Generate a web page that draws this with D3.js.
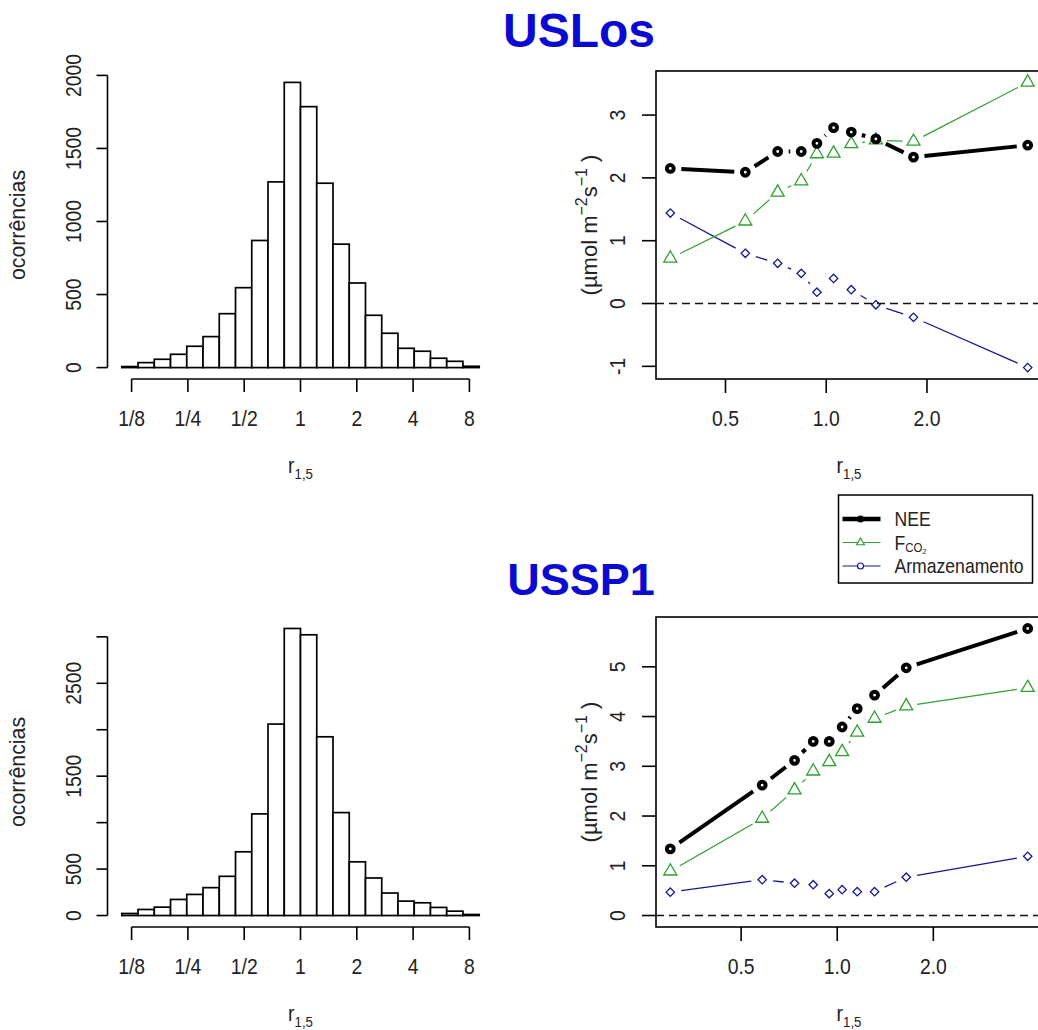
<!DOCTYPE html>
<html>
<head>
<meta charset="utf-8">
<script src="https://cdn.jsdelivr.net/npm/d3@7/dist/d3.min.js"></script>
<style>
  body { margin: 0; background: #fff; }
  svg { display: block; }
  text { font-family: "Liberation Sans", Arial, sans-serif; }
</style>
</head>
<body>
<svg id="chart" width="1038" height="1030"></svg>
<script>
// ---------- data ----------
// histogram bin edges, in ln(r)
const binEdgesLn = [-2.2, -2.0, -1.8, -1.6, -1.4, -1.2, -1.0, -0.8, -0.6, -0.4, -0.2, 0,
                    0.2, 0.4, 0.6, 0.8, 1.0, 1.2, 1.4, 1.6, 1.8, 2.0, 2.2];
const countsUSLos = [7, 34, 57, 91, 146, 212, 369, 547, 870, 1271, 1952,
                     1786, 1262, 845, 579, 358, 235, 132, 112, 64, 43, 9];
const countsUSSP1 = [22, 65, 90, 173, 227, 300, 422, 686, 1094, 2061, 3090,
                     3022, 1924, 1108, 578, 404, 242, 155, 137, 87, 47, 11];

const histXTicks = [1/8, 1/4, 1/2, 1, 2, 4, 8];
const histXLabels = ["1/8", "1/4", "1/2", "1", "2", "4", "8"];
const histYTicksUSLos = [0, 500, 1000, 1500, 2000];
const histYLabelsUSLos = [0, 500, 1000, 1500, 2000];
const histYTicksUSSP1 = [0, 500, 1000, 1500, 2000, 2500, 3000];
const histYLabelsUSSP1 = [0, 500, 1500, 2500];

// flux vs r_1,5
const rUSLos    = [0.342, 0.573, 0.716, 0.842, 0.938, 1.052, 1.188, 1.407, 1.823, 4.0];
const neeUSLos  = [2.15, 2.09, 2.42, 2.42, 2.55, 2.80, 2.73, 2.62, 2.33, 2.52];
const fco2USLos = [0.72, 1.31, 1.77, 1.95, 2.38, 2.39, 2.54, 2.60, 2.58, 3.52];
const armUSLos  = [1.44, 0.80, 0.64, 0.48, 0.18, 0.40, 0.22, -0.02, -0.22, -1.02];

const rUSSP1    = [0.300, 0.582, 0.735, 0.841, 0.944, 1.036, 1.155, 1.309, 1.645, 3.95];
const neeUSSP1  = [1.34, 2.62, 3.12, 3.50, 3.50, 3.79, 4.16, 4.43, 4.98, 5.77];
const fco2USSP1 = [0.89, 1.95, 2.52, 2.90, 3.09, 3.29, 3.68, 3.96, 4.21, 4.58];
const armUSSP1  = [0.47, 0.72, 0.65, 0.62, 0.44, 0.52, 0.48, 0.48, 0.77, 1.19];

const fluxXTicks = [0.5, 1.0, 2.0];
const fluxXLabels = ["0.5", "1.0", "2.0"];
const fluxYTicksUSLos = [-1, 0, 1, 2, 3];
const fluxYTicksUSSP1 = [0, 1, 2, 3, 4, 5];

const siteNames = ["USLos", "USSP1"];
const seriesNames = ["NEE", "FCO2", "Armazenamento"];

// ---------- styling ----------
const GREEN = "#2ea02e";
const BLUE = "#16168f";
const TITLE_BLUE = "#0a0ad2";
const INK = "#222";
const FONT = 22;
const NARROW = 0.88;   // the original font is a bit condensed
const GAP = 11;        // type="b" gap around points

const rows = [{ top: 71, bottom: 379 }, { top: 617, bottom: 927 }];
const leftCol = { left: 107.5, right: 493.5 };
const rightCol = { left: 656, right: 1042 };

const svg = d3.select("#chart");

// R style 4% padding
function pad(ext) {
    const d = (ext[1] - ext[0]) * 0.04;
    return [ext[0] - d, ext[1] + d];
}

// text inside a scaled group so it can be narrowed and rotated
function label(g, x, y, str, opts = {}) {
    const { size = FONT, anchor = "middle", rotate = 0, sx = NARROW,
            weight = "normal", fill = INK, baseline = null } = opts;
    const t = g.append("g")
        .attr("transform", `translate(${x},${y}) rotate(${rotate}) scale(${sx},1)`)
        .append("text")
            .attr("text-anchor", anchor)
            .attr("font-size", size)
            .attr("font-weight", weight)
            .attr("fill", fill);
    if (baseline) t.attr("dominant-baseline", baseline);
    if (str !== null) t.text(str);
    return t;
}

function rLabel(g, x, y) {
    const t = label(g, x, y, null);
    t.append("tspan").text("r");
    t.append("tspan").attr("font-size", 15).attr("dy", 6).text("1,5");
}

// ---------- histogram panel ----------
function histogram(g, row, counts, yTicks, yLabels) {
    const x = d3.scaleLinear()
        .domain(pad([binEdgesLn[0], binEdgesLn[binEdgesLn.length - 1]]))
        .range([leftCol.left, leftCol.right]);
    const y = d3.scaleLinear()
        .domain(pad([0, d3.max(counts)]))
        .range([row.bottom, row.top]);

    const bins = counts.map((c, i) => ({ c, x0: binEdgesLn[i], x1: binEdgesLn[i + 1] }));
    g.selectAll("rect.bar").data(bins)
        .join("rect")
            .attr("class", "bar")
            .attr("x", d => x(d.x0))
            .attr("y", d => y(d.c))
            .attr("width", d => x(d.x1) - x(d.x0))
            .attr("height", d => y(0) - y(d.c))
            .attr("fill", "#fff")
            .attr("stroke", "#000")
            .attr("stroke-width", 1.7);

    // x axis (log2 ticks, positions in ln)
    const xt = histXTicks.map(v => x(Math.log(v)));
    g.append("line")
        .attr("x1", xt[0]).attr("x2", xt[xt.length - 1])
        .attr("y1", row.bottom).attr("y2", row.bottom)
        .attr("stroke", "#000").attr("stroke-width", 1.6);
    g.selectAll("line.xtick").data(histXTicks)
        .join("line")
            .attr("class", "xtick")
            .attr("x1", d => x(Math.log(d))).attr("x2", d => x(Math.log(d)))
            .attr("y1", row.bottom).attr("y2", row.bottom + 13)
            .attr("stroke", "#000").attr("stroke-width", 1.6);
    histXTicks.forEach((d, i) => label(g, x(Math.log(d)), row.bottom + 47, histXLabels[i]));
    rLabel(g, (leftCol.left + leftCol.right) / 2, row.bottom + 94);

    // y axis
    g.append("line")
        .attr("x1", leftCol.left).attr("x2", leftCol.left)
        .attr("y1", y(yTicks[0])).attr("y2", y(yTicks[yTicks.length - 1]))
        .attr("stroke", "#000").attr("stroke-width", 1.6);
    g.selectAll("line.ytick").data(yTicks)
        .join("line")
            .attr("class", "ytick")
            .attr("x1", leftCol.left - 11).attr("x2", leftCol.left)
            .attr("y1", d => y(d)).attr("y2", d => y(d))
            .attr("stroke", "#000").attr("stroke-width", 1.6);
    yLabels.forEach(d => label(g, leftCol.left - 27, y(d), String(d), { rotate: -90 }));
    label(g, 25, (row.top + row.bottom) / 2, "ocorrências", { rotate: -90, sx: 0.97 });
}

// ---------- flux panel ----------
function trianglePath(r) {
    const h = r * Math.sqrt(3) / 2;
    return `M0,${-r}L${h},${r / 2}L${-h},${r / 2}Z`;
}
function diamondPath(r) {
    return `M0,${-r}L${r},0L0,${r}L${-r},0Z`;
}

// line segments with gaps around each point (R type="b")
function gappedSegments(pts) {
    const segs = [];
    for (let i = 0; i < pts.length - 1; i++) {
        const [x1, y1] = pts[i], [x2, y2] = pts[i + 1];
        const len = Math.hypot(x2 - x1, y2 - y1);
        if (len <= 2 * GAP) continue;
        const ux = (x2 - x1) / len, uy = (y2 - y1) / len;
        segs.push([x1 + ux * GAP, y1 + uy * GAP, x2 - ux * GAP, y2 - uy * GAP]);
    }
    return segs;
}

function fluxPanel(g, row, r, nee, fco2, arm, yTicks) {
    const x = d3.scaleLog().base(2)
        .domain(pad(d3.extent(r).map(Math.log2)).map(v => Math.pow(2, v)))
        .range([rightCol.left, rightCol.right]);
    const y = d3.scaleLinear()
        .domain(pad(d3.extent([0, ...nee, ...fco2, ...arm])))
        .range([row.bottom, row.top]);

    // zero line
    g.append("line")
        .attr("x1", rightCol.left).attr("x2", rightCol.right)
        .attr("y1", y(0)).attr("y2", y(0))
        .attr("stroke", "#111").attr("stroke-width", 1.5)
        .attr("stroke-dasharray", "8,5");

    const series = [
        { key: "arm", vals: arm, color: BLUE, lw: 1.3, shape: "diamond" },
        { key: "fco2", vals: fco2, color: GREEN, lw: 1.2, shape: "triangle" },
        { key: "nee", vals: nee, color: "#000", lw: 4, shape: "circle" }
    ];

    series.forEach(s => {
        const pts = s.vals.map((v, i) => [x(r[i]), y(v)]);
        const sg = g.append("g").attr("class", `series-${s.key}`);
        sg.selectAll("line").data(gappedSegments(pts))
            .join("line")
                .attr("x1", d => d[0]).attr("y1", d => d[1])
                .attr("x2", d => d[2]).attr("y2", d => d[3])
                .attr("stroke", s.color).attr("stroke-width", s.lw);
        if (s.shape === "circle") {
            sg.selectAll("circle").data(pts)
                .join("circle")
                    .attr("cx", d => d[0]).attr("cy", d => d[1]).attr("r", 3.4)
                    .attr("fill", "none").attr("stroke", "#000").attr("stroke-width", 4);
        } else {
            const p = s.shape === "triangle" ? trianglePath(7.5) : diamondPath(4.2);
            sg.selectAll("path").data(pts)
                .join("path")
                    .attr("transform", d => `translate(${d[0]},${d[1]})`)
                    .attr("d", p)
                    .attr("fill", "none").attr("stroke", s.color).attr("stroke-width", 1.3);
        }
    });

    // box
    g.append("rect")
        .attr("x", rightCol.left).attr("y", row.top)
        .attr("width", rightCol.right - rightCol.left).attr("height", row.bottom - row.top)
        .attr("fill", "none").attr("stroke", "#000").attr("stroke-width", 1.6);

    // x axis ticks
    g.selectAll("line.xtick").data(fluxXTicks)
        .join("line")
            .attr("class", "xtick")
            .attr("x1", d => x(d)).attr("x2", d => x(d))
            .attr("y1", row.bottom).attr("y2", row.bottom + 14)
            .attr("stroke", "#000").attr("stroke-width", 1.6);
    fluxXTicks.forEach((d, i) => label(g, x(d), row.bottom + 47, fluxXLabels[i]));
    rLabel(g, (rightCol.left + rightCol.right) / 2, row.bottom + 94);

    // y axis ticks
    g.selectAll("line.ytick").data(yTicks)
        .join("line")
            .attr("class", "ytick")
            .attr("x1", rightCol.left - 14).attr("x2", rightCol.left)
            .attr("y1", d => y(d)).attr("y2", d => y(d))
            .attr("stroke", "#000").attr("stroke-width", 1.6);
    yTicks.forEach(d => label(g, rightCol.left - 31, y(d), String(d), { rotate: -90 }));

    // y label (µmol m^-2 s^-1)
    const t = label(g, 597, (row.top + row.bottom) / 2, null, { rotate: -90, sx: 1 });
    t.append("tspan").text("(µmol m");
    t.append("tspan").attr("font-size", 16).attr("dy", -10).text("−2");
    t.append("tspan").attr("dy", 10).text("s");
    t.append("tspan").attr("font-size", 16).attr("dy", -10).text("−1");
    t.append("tspan").attr("dy", 10).text(" )");
}

// ---------- legend ----------
function legend(g) {
    const box = { x: 838.5, y: 495, w: 194, h: 88 };
    g.append("rect")
        .attr("x", box.x).attr("y", box.y).attr("width", box.w).attr("height", box.h)
        .attr("fill", "#fff").attr("stroke", "#000").attr("stroke-width", 1.5);
    const items = [
        { name: seriesNames[0], color: "#000", lw: 4.5 },
        { name: seriesNames[1], color: GREEN, lw: 1.2 },
        { name: seriesNames[2], color: BLUE, lw: 1.2 }
    ];
    const ly = d3.scaleLinear().domain([0, 2]).range([box.y + 24, box.y + 71]);
    items.forEach((d, i) => {
        const yy = ly(i);
        g.append("line")
            .attr("x1", box.x + 4).attr("x2", box.x + 42)
            .attr("y1", yy).attr("y2", yy)
            .attr("stroke", d.color).attr("stroke-width", d.lw);
        const cx = box.x + 22;
        if (i === 0) {
            g.append("circle").attr("cx", cx).attr("cy", yy).attr("r", 3.5).attr("fill", "#000");
        } else if (i === 1) {
            g.append("path").attr("transform", `translate(${cx},${yy})`)
                .attr("d", trianglePath(4.5)).attr("fill", "#fff")
                .attr("stroke", d.color).attr("stroke-width", 1.2);
        } else {
            g.append("circle").attr("cx", cx).attr("cy", yy).attr("r", 3)
                .attr("fill", "#fff").attr("stroke", d.color).attr("stroke-width", 1.2);
        }
        const t = label(g, box.x + 56, yy, null, { size: 20, anchor: "start", baseline: "central" });
        if (d.name === "FCO2") {
            t.append("tspan").text("F");
            t.append("tspan").attr("font-size", 13).attr("dy", 5).text("CO");
            t.append("tspan").attr("font-size", 8).attr("dy", 3).text("2");
        } else {
            t.text(d.name);
        }
    });
}

// ---------- draw ----------
histogram(svg.append("g"), rows[0], countsUSLos, histYTicksUSLos, histYLabelsUSLos);
histogram(svg.append("g"), rows[1], countsUSSP1, histYTicksUSSP1, histYLabelsUSSP1);
fluxPanel(svg.append("g"), rows[0], rUSLos, neeUSLos, fco2USLos, armUSLos, fluxYTicksUSLos);
fluxPanel(svg.append("g"), rows[1], rUSSP1, neeUSSP1, fco2USSP1, armUSSP1, fluxYTicksUSSP1);
legend(svg.append("g"));

label(svg, 579, 47, siteNames[0], { size: 48, weight: "bold", fill: TITLE_BLUE, sx: 1 });
label(svg, 581, 595, siteNames[1], { size: 45, weight: "bold", fill: TITLE_BLUE, sx: 1 });
</script>
</body>
</html>
